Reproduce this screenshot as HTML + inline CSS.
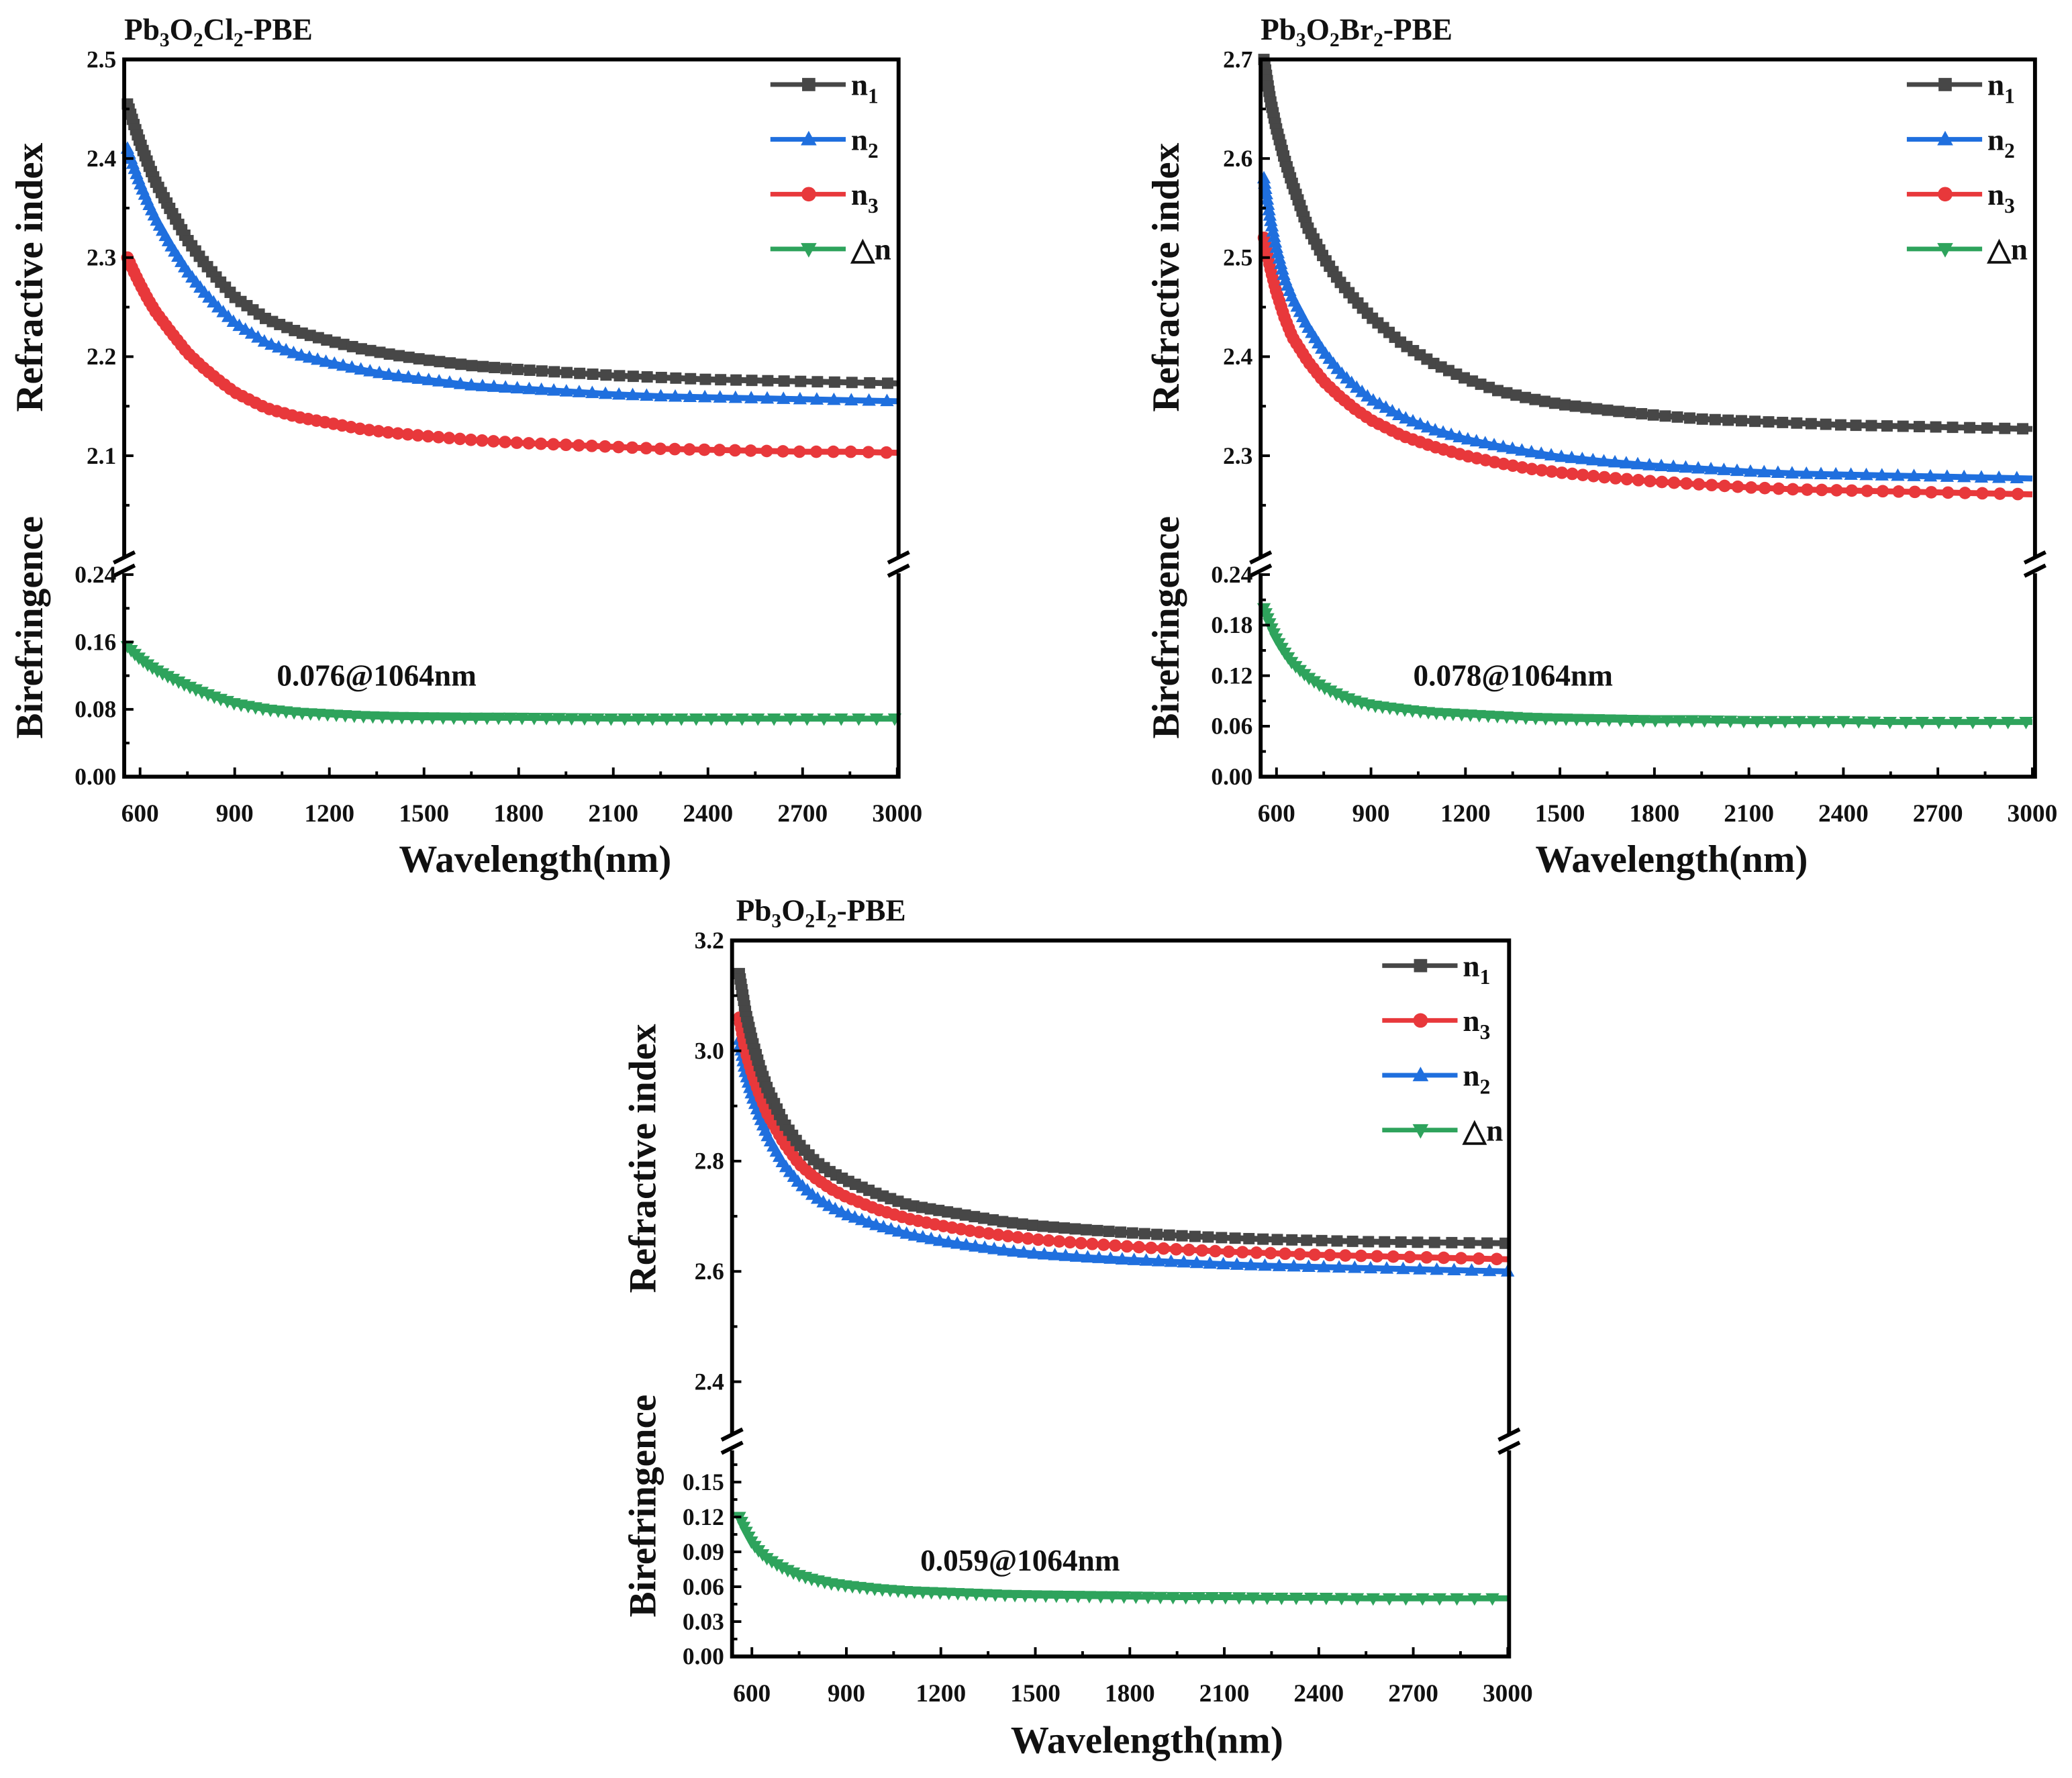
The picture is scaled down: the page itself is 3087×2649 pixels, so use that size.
<!DOCTYPE html>
<html><head><meta charset="utf-8"><style>
html,body{margin:0;padding:0;background:#fff}
svg{display:block}
text{font-family:"Liberation Serif",serif;font-weight:bold;fill:#111}
</style></head><body>
<svg id="fig" xmlns="http://www.w3.org/2000/svg" width="3087" height="2649" viewBox="0 0 1568 1346" preserveAspectRatio="none"></svg>
<script>
// shared wavelength grid (nm)
const wavelengths = [560,580,600,625,650,700,750,800,850,900,1000,1100,1200,1300,1400,1500,1650,1800,1950,2100,2250,2400,2550,2700,2850,3000];
const xTicks = [600,900,1200,1500,1800,2100,2400,2700,3000];

// Panel 1: Pb3O2Cl2
const cl_n1 = [2.455,2.435,2.416,2.395,2.376,2.346,2.318,2.296,2.277,2.260,2.238,2.225,2.216,2.208,2.202,2.197,2.191,2.187,2.184,2.181,2.179,2.177,2.176,2.175,2.174,2.173];
const cl_n2 = [2.41,2.392,2.375,2.356,2.339,2.311,2.286,2.266,2.249,2.234,2.214,2.202,2.194,2.187,2.181,2.177,2.171,2.168,2.165,2.162,2.160,2.159,2.158,2.157,2.156,2.155];
const cl_n3 = [2.30,2.286,2.273,2.258,2.245,2.224,2.204,2.189,2.176,2.164,2.148,2.139,2.133,2.127,2.123,2.120,2.116,2.113,2.111,2.109,2.107,2.106,2.105,2.104,2.104,2.103];
const cl_dn = [0.155,0.147,0.140,0.133,0.127,0.117,0.108,0.100,0.093,0.087,0.080,0.076,0.074,0.072,0.071,0.0705,0.07,0.07,0.0695,0.069,0.069,0.069,0.069,0.069,0.069,0.069];
const cl_upperTicks = [2.1,2.2,2.3,2.4,2.5];
const cl_lowerTicks = ["0.00","0.08","0.16","0.24"];

// Panel 2: Pb3O2Br2
const br_n1 = [2.70,2.66,2.63,2.60,2.575,2.53,2.50,2.476,2.457,2.440,2.413,2.393,2.378,2.366,2.358,2.352,2.346,2.341,2.337,2.335,2.333,2.331,2.330,2.329,2.328,2.327];
const br_n2 = [2.58,2.54,2.51,2.48,2.46,2.43,2.405,2.385,2.37,2.357,2.339,2.326,2.317,2.31,2.304,2.299,2.294,2.29,2.287,2.284,2.282,2.281,2.28,2.279,2.278,2.277];
const br_n3 = [2.52,2.49,2.465,2.44,2.42,2.395,2.375,2.36,2.347,2.336,2.320,2.309,2.30,2.293,2.287,2.283,2.278,2.274,2.271,2.268,2.266,2.265,2.264,2.263,2.262,2.261];
const br_dn = [0.20,0.18,0.163,0.148,0.135,0.118,0.106,0.097,0.09,0.085,0.08,0.076,0.074,0.072,0.07,0.069,0.068,0.067,0.067,0.066,0.066,0.066,0.065,0.065,0.065,0.065];
const br_upperTicks = [2.3,2.4,2.5,2.6,2.7];
const br_lowerTicks = ["0.00","0.06","0.12","0.18","0.24"];

// Panel 3: Pb3O2I2
const i_n1 = [3.14,3.07,3.02,2.97,2.93,2.87,2.83,2.80,2.78,2.765,2.74,2.72,2.71,2.70,2.69,2.683,2.676,2.67,2.665,2.661,2.658,2.656,2.654,2.653,2.652,2.651];
const i_n3 = [3.06,3.0,2.96,2.92,2.885,2.835,2.795,2.77,2.75,2.735,2.712,2.695,2.683,2.673,2.665,2.658,2.651,2.645,2.64,2.636,2.633,2.63,2.628,2.626,2.624,2.622];
const i_n2 = [3.02,2.96,2.92,2.88,2.845,2.795,2.76,2.735,2.717,2.703,2.683,2.667,2.655,2.646,2.638,2.632,2.626,2.621,2.617,2.613,2.61,2.608,2.606,2.604,2.602,2.60];
const i_dn = [0.12,0.108,0.098,0.09,0.084,0.076,0.07,0.066,0.063,0.061,0.058,0.056,0.055,0.054,0.053,0.0525,0.052,0.0515,0.051,0.051,0.0505,0.0505,0.05,0.05,0.05,0.05];
const i_upperTicks = ["2.4","2.6","2.8","3.0","3.2"];
const i_lowerTicks = ["0.00","0.03","0.06","0.09","0.12","0.15"];

const NS="http://www.w3.org/2000/svg";
const svg=document.getElementById('fig');
const COL={n1:'#474747',n2:'#1f6fde',n3:'#e8383b',dn:'#2ea35c'};
function el(tag,attrs,parent){const e=document.createElementNS(NS,tag);for(const k in attrs)e.setAttribute(k,attrs[k]);(parent||svg).appendChild(e);return e;}

function marker(g,type,x,y,c,s){
  let m;
  if(type==='sq'){m=el('rect',{x:x-s,y:y-s,width:2*s,height:2*s,fill:c},g);}
  else if(type==='ci'){m=el('circle',{cx:x,cy:y,r:s*1.1,fill:c},g);}
  else if(type==='up'){m=el('polygon',{points:`${x},${y-s*1.3} ${x-s*1.2},${y+s*0.9} ${x+s*1.2},${y+s*0.9}`,fill:c},g);}
  else {m=el('polygon',{points:`${x},${y+s*1.3} ${x-s*1.2},${y-s*0.9} ${x+s*1.2},${y-s*0.9}`,fill:c},g);}
  return m;
}

function panel(cfg){
  const g=el('g',{});
  
  
  const X=v=>cfg.xa+(v-600)*(cfg.xb-cfg.xa)/2400;
  const YU=v=>cfg.T+(cfg.uTop-v)*cfg.uScale;
  const YL=v=>cfg.B-v*cfg.lScale;
  cfg.series.forEach(s=>{
    const Y=s.lower?YL:YU;
    let d='';
    wavelengths.forEach((w,i)=>{d+=(i?'L':'M')+X(w).toFixed(2)+','+Y(s.data[i]).toFixed(2);});
    const p=el('path',{d:d,fill:'none',stroke:COL[s.key],'stroke-width':4.5,'stroke-linejoin':'round'},g);
    
    
    const L=p.getTotalLength();
    let l=0;
    while(l<=L){
      const pt=p.getPointAtLength(l);
      const m=marker(g,s.mk,pt.x,pt.y,COL[s.key],4.3);
      
      
      l+=4+10*(pt.x-cfg.L)/(cfg.R-cfg.L);
    }
  });
  const f=el('path',{d:`M${cfg.L},${cfg.brk-6}V${cfg.T}H${cfg.R}V${cfg.brk-6}M${cfg.L},${cfg.brk+6}V${cfg.B}H${cfg.R}V${cfg.brk+6}`,fill:'none',stroke:'#000','stroke-width':3},g);
  
  
  [cfg.L,cfg.R].forEach(x=>{
    const b=el('path',{d:`M${x-8},${cfg.brk-2}L${x+8},${cfg.brk-10}M${x-8},${cfg.brk+8}L${x+8},${cfg.brk}`,stroke:'#000','stroke-width':3,fill:'none'},g);
    
    
  });
  xTicks.forEach((t,i)=>{
    const x=X(t);
    el('line',{x1:x,y1:cfg.B,x2:x,y2:cfg.B-7,stroke:'#000','stroke-width':2},g);
    if(i<xTicks.length-1) el('line',{x1:X(t+150),y1:cfg.B,x2:X(t+150),y2:cfg.B-4,stroke:'#000','stroke-width':2},g);
    const tx=el('text',{x:x,y:cfg.B+34,'font-size':19,'text-anchor':'middle'},g);
    tx.textContent=t;
    
    
  });
  cfg.uTicks.forEach(t=>{
    const y=YU(+t);
    el('line',{x1:cfg.L,y1:y,x2:cfg.L+7,y2:y,stroke:'#000','stroke-width':2},g);
    const ym=YU(+t-cfg.uStep/2);
    if(ym<cfg.brk-8) el('line',{x1:cfg.L,y1:ym,x2:cfg.L+4,y2:ym,stroke:'#000','stroke-width':2},g);
    const tx=el('text',{x:cfg.L-6,y:y+6,'font-size':18,'text-anchor':'end'},g);
    tx.textContent=t;
    
    
  });
  cfg.lTicks.forEach(t=>{
    const y=YL(+t);
    el('line',{x1:cfg.L,y1:y,x2:cfg.L+7,y2:y,stroke:'#000','stroke-width':2},g);
    const ym=YL(+t+cfg.lStep/2);
    if(ym>cfg.brk+8) el('line',{x1:cfg.L,y1:ym,x2:cfg.L+4,y2:ym,stroke:'#000','stroke-width':2},g);
    const tx=el('text',{x:cfg.L-6,y:y+6,'font-size':18,'text-anchor':'end'},g);
    tx.textContent=t;
    
    
  });
  cfg.legend.forEach((s,i)=>{
    const y=cfg.legY+i*41.5;
    el('line',{x1:cfg.legX,y1:y,x2:cfg.legX+57,y2:y,stroke:COL[s.key],'stroke-width':3.5},g);
    marker(g,s.mk,cfg.legX+29,y,COL[s.key],5);
    const tx=el('text',{x:cfg.legX+61,y:y+8,'font-size':23},g);
    
    
    if(s.key==='dn'){tx.textContent='△n';}
    else{tx.textContent='n';const ts=el('tspan',{'font-size':16,dy:6},tx);ts.textContent=s.key.slice(1);}
  });
  return g;
}

panel({name:'panel-cl',L:94,R:680,T:45,B:588,brk:428,xa:106,xb:679,uTop:2.5,uScale:750,uStep:0.1,lScale:637.5,lStep:0.08,
 uTicks:cl_upperTicks,lTicks:cl_lowerTicks,legX:583,legY:64,
 series:[{key:'dn',data:cl_dn,mk:'dn',lower:true},{key:'n3',data:cl_n3,mk:'ci'},{key:'n2',data:cl_n2,mk:'up'},{key:'n1',data:cl_n1,mk:'sq'}],
 legend:[{key:'n1',mk:'sq'},{key:'n2',mk:'up'},{key:'n3',mk:'ci'},{key:'dn',mk:'dn'}]});
panel({name:'panel-br',L:954,R:1540,T:45,B:588,brk:428,xa:966,xb:1538,uTop:2.7,uScale:750,uStep:0.1,lScale:637.5,lStep:0.06,
 uTicks:br_upperTicks,lTicks:br_lowerTicks,legX:1443,legY:64,
 series:[{key:'dn',data:br_dn,mk:'dn',lower:true},{key:'n3',data:br_n3,mk:'ci'},{key:'n2',data:br_n2,mk:'up'},{key:'n1',data:br_n1,mk:'sq'}],
 legend:[{key:'n1',mk:'sq'},{key:'n2',mk:'up'},{key:'n3',mk:'ci'},{key:'dn',mk:'dn'}]});
panel({name:'panel-i',L:554,R:1142,T:712,B:1254,brk:1092,xa:569,xb:1141,uTop:3.2,uScale:417.5,uStep:0.2,lScale:880,lStep:0.03,
 uTicks:i_upperTicks,lTicks:i_lowerTicks,legX:1046,legY:731,
 series:[{key:'dn',data:i_dn,mk:'dn',lower:true},{key:'n2',data:i_n2,mk:'up'},{key:'n3',data:i_n3,mk:'ci'},{key:'n1',data:i_n1,mk:'sq'}],
 legend:[{key:'n1',mk:'sq'},{key:'n3',mk:'ci'},{key:'n2',mk:'up'},{key:'dn',mk:'dn'}]});
</script>
<script>
(function(){
const s=document.getElementById('fig');
const add=(html)=>{s.insertAdjacentHTML('beforeend',html);};
add('<text x="94" y="30" font-size="23">Pb<tspan font-size="15" dy="5">3</tspan><tspan dy="-5">O</tspan><tspan font-size="15" dy="5">2</tspan><tspan dy="-5">Cl</tspan><tspan font-size="15" dy="5">2</tspan><tspan dy="-5">-PBE</tspan></text>');
add('<text x="954" y="30" font-size="23">Pb<tspan font-size="15" dy="5">3</tspan><tspan dy="-5">O</tspan><tspan font-size="15" dy="5">2</tspan><tspan dy="-5">Br</tspan><tspan font-size="15" dy="5">2</tspan><tspan dy="-5">-PBE</tspan></text>');
add('<text x="557" y="697" font-size="23">Pb<tspan font-size="15" dy="5">3</tspan><tspan dy="-5">O</tspan><tspan font-size="15" dy="5">2</tspan><tspan dy="-5">I</tspan><tspan font-size="15" dy="5">2</tspan><tspan dy="-5">-PBE</tspan></text>');
[[405,660],[1265,660],[868,1327]].forEach(p=>add(`<text x="${p[0]}" y="${p[1]}" font-size="29" text-anchor="middle">Wavelength(nm)</text>`));
[[32,210,'Refractive index'],[32,475,'Birefringence'],[892,210,'Refractive index'],[892,475,'Birefringence'],[496,877,'Refractive index'],[496,1140,'Birefringence']].forEach(p=>add(`<text transform="translate(${p[0]},${p[1]}) rotate(-90)" font-size="29" text-anchor="middle">${p[2]}</text>`));
add('<text x="285" y="519" font-size="23" text-anchor="middle">0.076@1064nm</text>');
add('<text x="1145" y="519" font-size="23" text-anchor="middle">0.078@1064nm</text>');
add('<text x="772" y="1189" font-size="23" text-anchor="middle">0.059@1064nm</text>');
})();
</script>
</body></html>
